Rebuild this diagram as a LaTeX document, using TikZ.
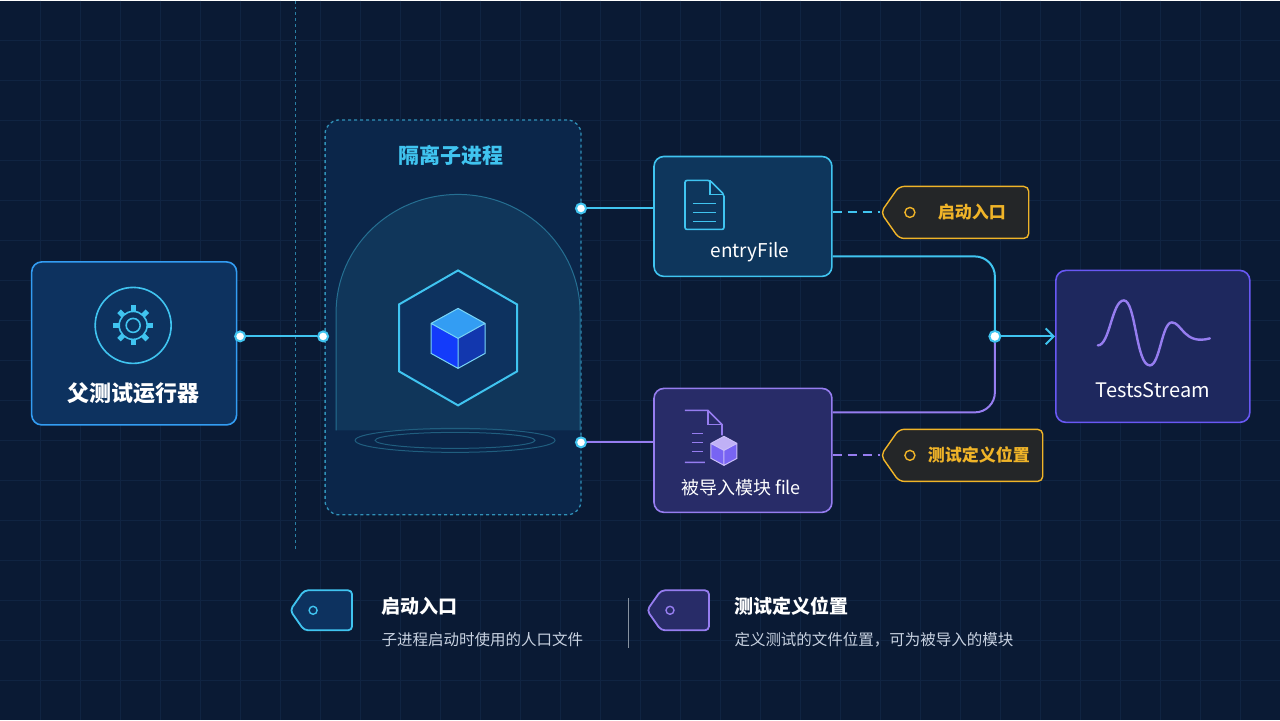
\documentclass[tikz,border=0pt]{standalone}
\usepackage{fontspec}
\setmainfont{Noto Sans CJK SC}
\usetikzlibrary{positioning,arrows.meta,shapes.symbols,calc}
\definecolor{BgNavy}{RGB}{10,26,52}
\definecolor{GridLine}{RGB}{16,36,66}
\definecolor{CyanA}{RGB}{64,196,240}
\definecolor{CyanFill}{RGB}{14,54,92}
\definecolor{BlueFill}{RGB}{13,50,95}
\definecolor{PurpleA}{RGB}{150,125,240}
\definecolor{PurpleFill}{RGB}{40,44,104}
\definecolor{StreamFill}{RGB}{30,40,94}
\definecolor{GoldA}{RGB}{240,180,40}
\definecolor{TagFill}{RGB}{36,38,40}
\definecolor{SoftText}{RGB}{200,210,225}

\tikzset{
    box/.style={draw, rounded corners=10pt, line width=1.6pt},
    tagnode/.style={shape=signal, signal to=west, signal pointer angle=110, draw=GoldA, fill=TagFill,
        line width=1.4pt, rounded corners=5pt, text=GoldA, font=\fontsize{17}{17}\selectfont\bfseries,
        inner xsep=12pt, minimum height=52pt, align=center},
    dot/.style={circle, draw=#1, fill=white, line width=2pt, inner sep=0pt, minimum size=10pt},
    link/.style={line width=2pt},
}

\begin{document}
\begin{tikzpicture}[x=1pt, y=-1pt, >=Stealth]

        % Background and grid
        \fill[BgNavy] (0,0) rectangle (1280,720);
        \foreach \x in {40,80,...,1240} {
            \draw[GridLine, line width=0.4pt] (\x,0) -- (\x,720);
        }
        \foreach \y in {40,80,...,680} {
            \draw[GridLine, line width=0.4pt] (0,\y) -- (1280,\y);
        }
        \draw[CyanA!60!BgNavy, dashed, line width=1pt] (295,0) -- (295,550);

        % Parent runner
        \node[box, draw=CyanA!80!blue, fill=BlueFill, minimum width=205pt, minimum height=163pt] (runner) at (134,343) {};
        \draw[CyanA, line width=1.6pt] (133,325) circle (38);
        \draw[CyanA, line width=1.6pt] (133,325) circle (7);
        \foreach \a in {0,45,...,315} {
            \draw[CyanA, line width=5pt] ($(133,325)+(\a:14)$) -- ($(133,325)+(\a:20)$);
        }
        \draw[CyanA, line width=1.6pt] (133,325) circle (14);
        \node[text=white, font=\fontsize{22}{22}\selectfont\bfseries] (runnerlabel) at (133,393) {父测试运行器};

        % Isolated child process
        \node[draw=CyanA!70!BgNavy, dashed, line width=1.3pt, rounded corners=14pt, fill=BlueFill!50!BgNavy,
            minimum width=256pt, minimum height=395pt] (child) at (453,317) {};
        \node[text=CyanA, font=\fontsize{21}{21}\selectfont\bfseries] (childlabel) at (451,155) {隔离子进程};
        \fill[CyanA, opacity=0.10] (336,430) -- (336,312) arc[start angle=180, end angle=0, x radius=122, y radius=-118] -- (580,430) -- cycle;
        \draw[CyanA!50!BgNavy, line width=1pt] (336,430) -- (336,312) arc[start angle=180, end angle=0, x radius=122, y radius=-118] -- (580,430);
        \draw[CyanA!40!BgNavy, line width=1pt] (455,440) ellipse (100 and 12);
        \draw[CyanA!40!BgNavy, line width=1pt] (455,440) ellipse (80 and 8);
        \draw[CyanA, line width=2pt, fill=BlueFill] (458,270) -- (517,304) -- (517,371) -- (458,405) -- (399,371) -- (399,304) -- cycle;
        \fill[blue!70!CyanA] (458,308) -- (485,323) -- (485,353) -- (458,368) -- (431,353) -- (431,323) -- cycle;
        \fill[CyanA!80!blue] (458,308) -- (485,323) -- (458,338) -- (431,323) -- cycle;
        \fill[blue!60!CyanA!70!black] (458,338) -- (485,323) -- (485,353) -- (458,368) -- cycle;
        \draw[CyanA!70!white, line width=1pt] (458,308) -- (485,323) -- (485,353) -- (458,368) -- (431,353) -- (431,323) -- cycle
            (431,323) -- (458,338) -- (485,323) (458,338) -- (458,368);

        % Ports
        \node[dot=CyanA] (pout) at (240,336) {};
        \node[dot=CyanA] (pin) at (323,336) {};
        \node[dot=CyanA] (ptop) at (581,208) {};
        \node[dot=CyanA] (pbot) at (581,442) {};
        \draw[CyanA, link] (pout) -- (pin);

        % Entry file
        \node[box, draw=CyanA, fill=CyanFill, minimum width=178pt, minimum height=120pt] (entry) at (743,216) {};
        \draw[CyanA, line width=1.6pt, rounded corners=2pt] (685,180) -- (710,180) -- (724,194) -- (724,229) -- (685,229) -- cycle;
        \draw[CyanA, line width=1.6pt] (710,180) -- (710,194) -- (724,194);
        \foreach \y in {203,212,221} {
            \draw[CyanA, line width=1.4pt] (693,\y) -- (716,\y);
        }
        \node[text=white, font=\fontsize{19}{19}\selectfont] (entrylabel) at (750,252) {entryFile};

        % Imported module file
        \node[box, draw=PurpleA, fill=PurpleFill, minimum width=178pt, minimum height=124pt] (module) at (743,450) {};
        \draw[PurpleA, line width=1.6pt] (685,410) -- (708,410) -- (722,424) -- (722,435) (705,462) -- (685,462) -- cycle;
        \draw[PurpleA, line width=1.6pt] (708,410) -- (708,424) -- (722,424);
        \foreach \y in {433,442,451} {
            \draw[PurpleA, line width=1.4pt] (692,\y) -- (703,\y);
        }
        \fill[PurpleA!80!blue] (724,436) -- (737,443) -- (737,458) -- (724,465) -- (711,458) -- (711,443) -- cycle;
        \fill[PurpleA!60!white] (724,436) -- (737,443) -- (724,450) -- (711,443) -- cycle;
        \draw[PurpleA!50!white, line width=1pt] (724,436) -- (737,443) -- (737,458) -- (724,465) -- (711,458) -- (711,443) -- cycle
            (711,443) -- (724,450) -- (737,443) (724,450) -- (724,465);
        \node[text=white, font=\fontsize{18}{18}\selectfont] (modulelabel) at (741,487) {被导入模块 file};

        \draw[CyanA, link] (ptop) -- (entry.west |- ptop);
        \draw[PurpleA, link] (pbot) -- (module.west |- pbot);

        % Tags
        \node[tagnode, minimum width=148pt] (entrytag) at (964,212) {\hspace{16pt}启动入口};
        \node[tagnode, minimum width=162pt] (posttag) at (971,455) {\hspace{16pt}测试定义位置};
        \draw[GoldA, line width=1.4pt] (910,212) circle (5);
        \draw[GoldA, line width=1.4pt] (910,455) circle (5);
        \draw[CyanA, link, dash pattern=on 9pt off 6pt] (entry.east |- entrytag) -- (entrytag.west);
        \draw[PurpleA, link, dash pattern=on 9pt off 6pt] (module.east |- posttag) -- (posttag.west);

        % Merge into TestsStream
        \node[box, draw=PurpleA!70!blue, fill=StreamFill, minimum width=194pt, minimum height=152pt] (stream) at (1153,346) {};
        \node[dot=CyanA, minimum size=11pt] (merge) at (995,336) {};
        \draw[CyanA, link, rounded corners=20pt] (entry.east |- 0,256) -- (995,256) -- (merge);
        \draw[PurpleA, link, rounded corners=20pt] (module.east |- 0,412) -- (995,412) -- (merge);
        \draw[CyanA, link, -{Straight Barb[length=8pt, width=16pt]}] (merge) -- (merge -| stream.west);
        \draw[PurpleA, line width=2.4pt, line cap=round] (1098,345) .. controls (1110,345) and (1112,300) .. (1124,300)
            .. controls (1136,300) and (1136,365) .. (1150,365) .. controls (1160,365) and (1162,322) .. (1172,322)
            .. controls (1182,322) and (1184,345) .. (1210,338);
        \node[text=white, font=\fontsize{20}{20}\selectfont] (streamlabel) at (1153,390) {TestsStream};

        % Legend
        \node[shape=signal, signal to=west, signal pointer angle=110, draw=CyanA, fill=BlueFill, line width=1.8pt,
            rounded corners=4pt, minimum width=62pt, minimum height=40pt] (keyentry) at (328,610) {};
        \draw[CyanA, line width=1.4pt] (313,610) circle (4);
        \node[anchor=west, text=white, font=\fontsize{19}{19}\selectfont\bfseries] (keyentrytitle) at (378,606) {启动入口};
        \node[anchor=west, text=SoftText, font=\fontsize{15.5}{15.5}\selectfont] (keyentrytext) at (378,639) {子进程启动时使用的人口文件};
        \draw[GridLine!50!white, line width=0.8pt] (628,598) -- (628,648);
        \node[shape=signal, signal to=west, signal pointer angle=110, draw=PurpleA, fill=PurpleFill, line width=1.8pt,
            rounded corners=4pt, minimum width=62pt, minimum height=40pt] (keypost) at (685,610) {};
        \draw[PurpleA, line width=1.4pt] (670,610) circle (4);
        \node[anchor=west, text=white, font=\fontsize{19}{19}\selectfont\bfseries] (keyposttitle) at (731,606) {测试定义位置};
        \node[anchor=west, text=SoftText, font=\fontsize{15.5}{15.5}\selectfont] (keyposttext) at (731,639) {定义测试的文件位置，可为被导入的模块};
        \end{tikzpicture}
\end{document}
